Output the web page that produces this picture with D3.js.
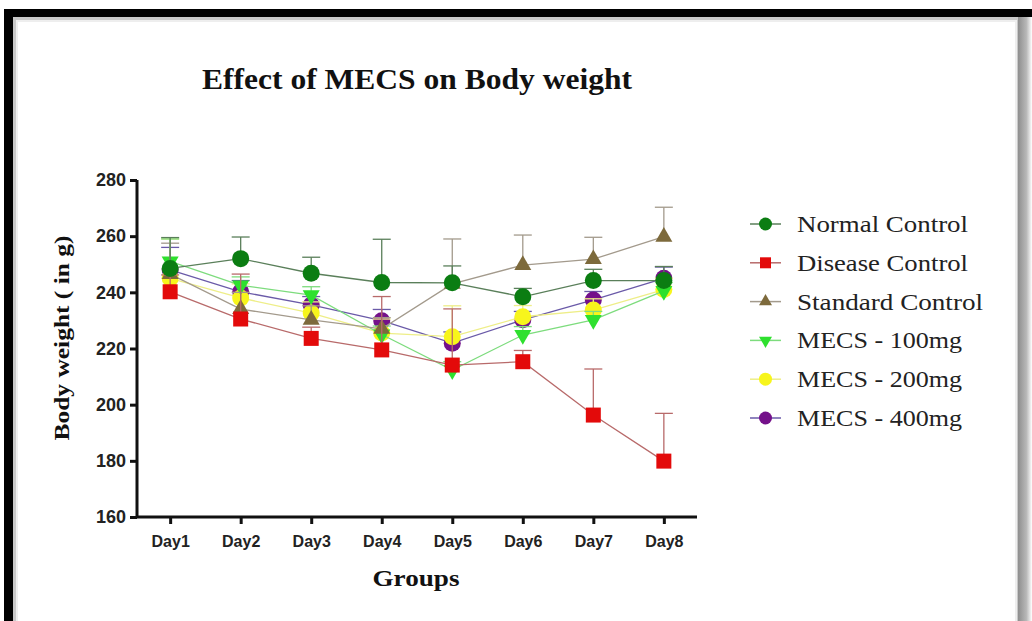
<!DOCTYPE html>
<html><head><meta charset="utf-8">
<script src="https://cdn.jsdelivr.net/npm/d3@7"></script>
<style>body{margin:0;background:#fff}svg{display:block}</style>
</head><body>
<svg id="c" width="1032" height="621"></svg>
<script>
const days = ["Day1","Day2","Day3","Day4","Day5","Day6","Day7","Day8"];
const yTicks = [160,180,200,220,240,260,280];
const seriesNames = ["Normal Control","Disease Control","Standard Control","MECS - 100mg","MECS - 200mg","MECS - 400mg"];
const normalControl   = [248.5,252,246.8,243.5,243.4,238.4,244.2,244.2];
const diseaseControl  = [240.2,230.5,223.6,219.5,214.1,215.3,196.3,179.9];
const standardControl = [246.5,234,230.2,227,243,249.7,251.8,259.8];
const mecs100         = [251,242.5,239,225,212.3,224.8,230.2,240.5];
const mecs200         = [245,238,232.6,225.5,224.2,231.3,233.7,241];
const mecs400         = [248,240.2,235.5,229.9,221.9,230.2,237.3,245];
const normalSD   = [11,7.7,5.7,15.4,6,3,4,5];
const diseaseSD  = [6,16,4,19,20,4,16.4,17];
const standardSD = [11,6,5,4,16,10.7,7.8,10.5];
const mecs100SD  = [8,3,3,3,3,3,3,3];
const mecs200SD  = [14,5,4,5,11,4,4,4];
const mecs400SD  = [8,4,3,4,4,3,3,4];

const styles = [
  {mark:"circle", fill:"#0b7d12", line:"#5a7f5a"},
  {mark:"square", fill:"#e30a0a", line:"#b86a6a"},
  {mark:"triangle", fill:"#7d6a3c", line:"#a39a8c"},
  {mark:"triangleDown", fill:"#2ee02e", line:"#7ddc7d"},
  {mark:"circle", fill:"#f7f51c", line:"#eeee88"},
  {mark:"circle", fill:"#74118a", line:"#6a5aa8"}
];
const allVals = [normalControl,diseaseControl,standardControl,mecs100,mecs200,mecs400];
const allSD = [normalSD,diseaseSD,standardSD,mecs100SD,mecs200SD,mecs400SD];

const svg = d3.select("#c");
// frame
svg.append("rect").attr("x",4).attr("y",9).attr("width",1028).attr("height",612).attr("fill","#000");
const g0 = svg.append("defs").append("linearGradient").attr("id","sh");
g0.append("stop").attr("offset","0").attr("stop-color","#8e8e8e");
g0.append("stop").attr("offset","0.6").attr("stop-color","#b8b8b8");
g0.append("stop").attr("offset","1").attr("stop-color","#ffffff");
svg.append("rect").attr("x",1018).attr("y",17).attr("width",14).attr("height",604).attr("fill","url(#sh)");
svg.append("rect").attr("x",13).attr("y",17).attr("width",1005).attr("height",604).attr("fill","#fff");
svg.append("rect").attr("x",14.5).attr("y",18.5).attr("width",1002).attr("height",610).attr("fill","none").attr("stroke","#c8c8c8").attr("stroke-width",3);
svg.append("rect").attr("x",17).attr("y",21).attr("width",999).attr("height",610).attr("fill","none").attr("stroke","#eeeeee").attr("stroke-width",2);

const x = d3.scalePoint().domain(days).range([137,697]).padding(0.47);
const y = d3.scaleLinear().domain([160,280]).range([517,180]);

function fitText(sel, w){
  sel.attr("textLength", w).attr("lengthAdjust","spacingAndGlyphs");
  return sel;
}

// title
fitText(svg.append("text").attr("x",417).attr("y",89).attr("text-anchor","middle")
  .attr("font-family","Liberation Serif").attr("font-weight","bold").attr("font-size",29)
  .attr("fill","#111").text("Effect of MECS on Body weight"), 430);

// axes
const ya = svg.append("g").attr("transform","translate(137,0)")
  .call(d3.axisLeft(y).tickValues(yTicks).tickSize(7).tickPadding(4));
const xa = svg.append("g").attr("transform","translate(0,517)")
  .call(d3.axisBottom(x).tickSize(7).tickPadding(12));
[ya,xa].forEach(a=>{
  a.select(".domain").attr("stroke","#111").attr("stroke-width",3);
  a.selectAll(".tick line").attr("stroke","#111").attr("stroke-width",3);
  a.selectAll("text").attr("font-family","Liberation Sans").attr("font-weight","bold")
    .attr("font-size",16).attr("fill","#222");
});
ya.selectAll("text").attr("font-size",18);
xa.select(".domain").attr("d","M137,0H697");
ya.select(".domain").attr("d","M0,180V517");

fitText(svg.append("text").attr("transform","translate(69,338) rotate(-90)").attr("text-anchor","middle")
  .attr("font-family","Liberation Serif").attr("font-weight","bold").attr("font-size",22)
  .attr("fill","#111").text("Body weight ( in g)"), 205);
fitText(svg.append("text").attr("x",416).attr("y",586).attr("text-anchor","middle")
  .attr("font-family","Liberation Serif").attr("font-weight","bold").attr("font-size",24)
  .attr("fill","#111").text("Groups"), 87);

function marker(sel, type, size, fill){
  const sym = {circle:d3.symbolCircle, square:d3.symbolSquare, triangle:d3.symbolTriangle, triangleDown:d3.symbolTriangle}[type];
  const area = type==="circle" ? Math.PI*size*size/4 : (type==="square"? size*size : size*size*0.433);
  const p = sel.append("path").attr("d", d3.symbol().type(sym).size(area)).attr("fill",fill);
  if(type==="triangleDown") p.attr("transform","rotate(180)");
  return p;
}

const plot = svg.append("g");
for(let i=allVals.length-1;i>=0;i--){
  const vals = allVals[i], sd = allSD[i], st = styles[i];
  const g = plot.append("g");
  days.forEach((d,j)=>{
    const cx = x(d), y0 = y(vals[j]), y1 = y(vals[j]+sd[j]);
    g.append("line").attr("x1",cx).attr("x2",cx).attr("y1",y0).attr("y2",y1).attr("stroke",st.line).attr("stroke-width",1.3);
    g.append("line").attr("x1",cx-9).attr("x2",cx+9).attr("y1",y1).attr("y2",y1).attr("stroke",st.line).attr("stroke-width",1.3);
  });
  g.append("path").datum(vals).attr("fill","none").attr("stroke",st.line).attr("stroke-width",1.3)
    .attr("d", d3.line().x((v,j)=>x(days[j])).y(v=>y(v)));
  days.forEach((d,j)=>{
    const m = g.append("g").attr("transform",`translate(${x(d)},${y(vals[j])})`);
    marker(m, st.mark, st.mark==="square"?15:17, st.fill);
  });
}

// legend
const legendWidths = [171,171,186,165,165,165];
const leg = svg.append("g");
seriesNames.forEach((n,i)=>{
  const yy = 224 + i*38.8, st = styles[i];
  leg.append("line").attr("x1",750).attr("x2",781).attr("y1",yy).attr("y2",yy).attr("stroke",st.line).attr("stroke-width",1.5);
  const m = leg.append("g").attr("transform",`translate(765.5,${yy})`);
  marker(m, st.mark, st.mark==="square"?11:13, st.fill);
  fitText(leg.append("text").attr("x",797).attr("y",yy+8).attr("font-family","Liberation Serif")
    .attr("font-size",24).attr("fill","#222").text(n), legendWidths[i]);
});
</script>
</body></html>
